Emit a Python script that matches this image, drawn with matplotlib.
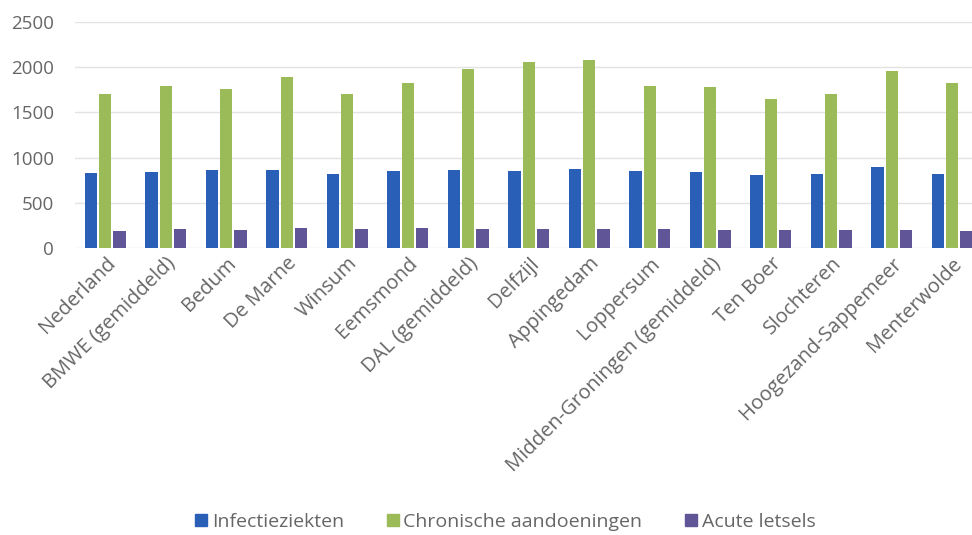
import numpy as np
import matplotlib.pyplot as plt
from matplotlib.patches import Patch

# Data
gemeenten = ["Nederland", "BMWE (gemiddeld)", "Bedum", "De Marne", "Winsum",
             "Eemsmond", "DAL (gemiddeld)", "Delfzijl", "Appingedam", "Loppersum",
             "Midden-Groningen (gemiddeld)", "Ten Boer", "Slochteren",
             "Hoogezand-Sappemeer", "Menterwolde"]
infectieziekten = [835, 845, 862, 858, 815, 855, 866, 852, 877, 855, 837, 811, 822, 899, 815]
chronisch = [1705, 1792, 1755, 1888, 1707, 1829, 1980, 2057, 2076, 1795, 1785, 1645, 1707, 1954, 1829]
acuut = [185, 210, 199, 221, 207, 218, 210, 210, 214, 214, 199, 199, 196, 199, 188]

blauw = '#2a5fb8'
groen = '#9bbb59'
paars = '#5f5597'
tekst = '#666666'

plt.rcParams['font.family'] = ['Open Sans', 'DejaVu Sans']

fig = plt.figure(figsize=(9.72, 5.35), dpi=100)
ax = fig.add_axes([75 / 972, 1 - 248 / 535, 15 * 60.5 / 972, 226 / 535])

x = np.arange(len(gemeenten))
w = 0.205
d = 0.236
ax.bar(x - d, infectieziekten, w, color=blauw, zorder=3)
ax.bar(x, chronisch, w, color=groen, zorder=3)
ax.bar(x + d, acuut, w, color=paars, zorder=3)

ax.set_xlim(-0.5, len(gemeenten) - 0.5)
ax.set_ylim(0, 2500)
ax.set_yticks([0, 500, 1000, 1500, 2000, 2500])
ax.yaxis.grid(True, color='#e3e3e3', linewidth=1, zorder=0)
ax.set_axisbelow(True)
for s in ax.spines.values():
    s.set_visible(False)
ax.tick_params(axis='both', length=0, colors=tekst, labelsize=13.5)
ax.tick_params(axis='y', pad=15)
ax.tick_params(axis='x', pad=4)
ax.set_xticks(x)
ax.set_xticklabels(gemeenten, rotation=45, ha='right', rotation_mode='anchor', fontsize=14.5)

handles = [Patch(color=blauw), Patch(color=groen), Patch(color=paars)]
fig.legend(handles, ["Infectieziekten", "Chronische aandoeningen", "Acute letsels"],
           loc='center', bbox_to_anchor=(0.52, 1 - 522 / 535), ncol=3, frameon=False,
           fontsize=14, labelcolor=tekst, handlelength=0.6, handleheight=0.6,
           handletextpad=0.25, columnspacing=2.2)

fig.savefig('out.png', dpi=100)
